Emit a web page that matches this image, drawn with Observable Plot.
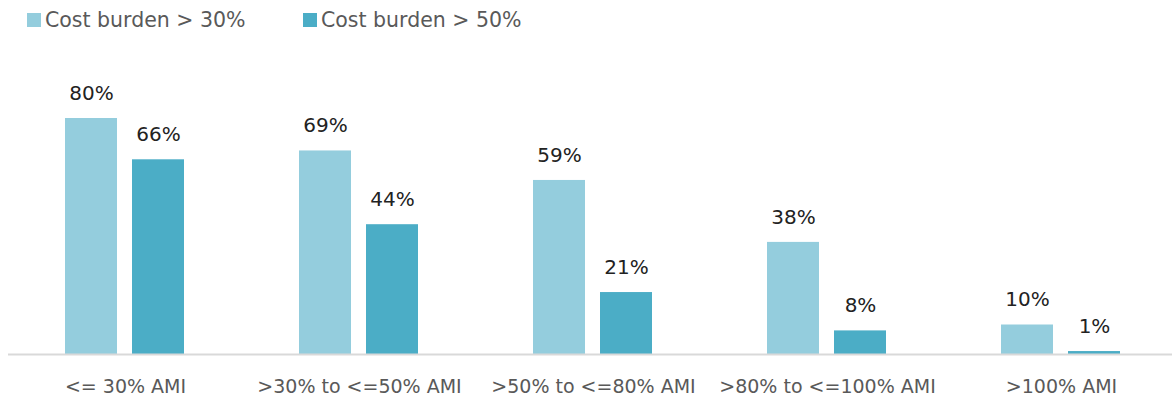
<!DOCTYPE html>
<html><head>
<meta charset="utf-8">
<script src="https://cdn.jsdelivr.net/npm/d3@7"></script>
<script src="https://cdn.jsdelivr.net/npm/@observablehq/plot@0.6"></script>
<style>
body{margin:0;background:#fff;font-family:"DejaVu Sans",sans-serif;}
#legend{height:40px;position:relative;color:#595959;font-size:20.5px;}
.item{position:absolute;top:6px;display:flex;align-items:center;height:28px;white-space:nowrap;}
.sw{width:14px;height:14px;margin-right:4px;display:inline-block;}
#chart svg{display:block;}
g[aria-label="fx-axis tick label"], g[aria-label="fx-axis"]{fill:#595959;color:#595959;}
</style></head><body>
<div id="legend"></div>
<div id="chart"></div>
<script>
const categories = ["<= 30% AMI", ">30% to <=50% AMI", ">50% to <=80% AMI", ">80% to <=100% AMI", ">100% AMI"];
const series = ["Cost burden > 30%", "Cost burden > 50%"];
const burden30 = [80, 69, 59, 38, 10];
const burden50 = [66, 44, 21, 8, 1];
const colors = ["#94cddd", "#4badc6"];

const data = categories.flatMap((c, i) => [
  {cat: c, s: series[0], v: burden30[i]},
  {cat: c, s: series[1], v: burden50[i]}
]);

const legend = document.getElementById("legend");
const legendX = [27, 303];
series.forEach((s, i) => {
  const it = document.createElement("div");
  it.className = "item";
  it.style.left = legendX[i] + "px";
  it.innerHTML = `<span class="sw" style="background:${colors[i]}"></span><span></span>`;
  it.lastChild.textContent = s;
  legend.appendChild(it);
});

const chart = Plot.plot({
  width: 1172,
  height: 361,
  marginTop: 19,
  marginBottom: 47,
  marginLeft: 6,
  marginRight: 0,
  style: {fontFamily: "'DejaVu Sans', sans-serif", fontSize: "19px", background: "#fff"},
  fx: {domain: categories, padding: 0, range: [6, 1179], label: null, axis: "bottom", tickSize: 0, tickPadding: 25},
  x: {domain: series, paddingInner: 0.222, paddingOuter: 0.848, axis: null},
  y: {domain: [0, 100], axis: null},
  color: {domain: series, range: colors},
  marks: [
    Plot.barY(data, {fx: "cat", x: "s", y: "v", fill: "s"}),
    Plot.ruleY([0], {stroke: "#d9d9d9", strokeWidth: 2}),
    Plot.text(data, {fx: "cat", x: "s", y: "v", text: d => d.v + "%", dy: -25, fill: "#222", fontSize: 20})
  ]
});
document.getElementById("chart").appendChild(chart);
</script>
</body></html>
